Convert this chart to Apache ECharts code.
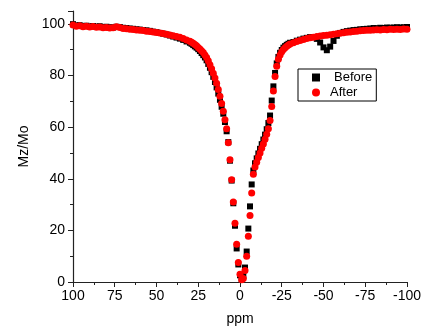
<!DOCTYPE html>
<html>
<head>
<meta charset="utf-8">
<script src="https://cdn.jsdelivr.net/npm/echarts@6/dist/echarts.min.js"></script>
<style>
  html, body { margin: 0; padding: 0; background: #fff; }
  #chart { width: 424px; height: 332px; }
</style>
</head>
<body>
<div id="chart"></div>
<script>
// offsets in ppm (wings sampled every 2 ppm, centre every 1 ppm)
const ppm = [
  100, 98, 96, 94, 92, 90, 88, 86, 84, 82, 80, 78, 76, 74, 72, 70, 68, 66, 64, 62,
  60, 58, 56, 54, 52, 50, 48, 46, 44, 42, 40, 38, 36, 34, 32,
  30, 29, 28, 27, 26, 25, 24, 23, 22, 21, 20, 19, 18, 17, 16, 15, 14, 13, 12, 11,
  10, 9, 8, 7, 6, 5, 4, 3, 2, 1, 0, -1, -2, -3, -4, -5, -6, -7, -8, -9,
  -10, -11, -12, -13, -14, -15, -16, -17, -18, -19, -20, -21, -22, -23, -24, -25, -26, -27, -28, -29, -30,
  -32, -34, -36, -38, -40, -42, -44, -46, -48, -50, -52, -54, -56, -58, -60, -62, -64, -66, -68, -70,
  -72, -74, -76, -78, -80, -82, -84, -86, -88, -90, -92, -94, -96, -98, -100
];

const before = [
  99.9, 99.4, 99.5, 99.2, 99.3, 99.0, 99.2, 98.9, 99.1, 98.8, 98.9, 98.7, 98.6, 98.9, 98.8, 98.5, 98.4, 98.2, 98.1, 97.9,
  97.8, 97.6, 97.5, 97.3, 97.0, 96.8, 96.5, 96.2, 95.9, 95.5, 95.1, 94.7, 94.3, 93.8, 93.2,
  92.7, 92.3, 91.8, 91.3, 90.8, 90.2, 89.5, 88.7, 87.9, 87.0, 85.9, 84.5, 83.0, 81.3, 79.5, 77.5, 75.4, 73.0, 70.6, 67.9,
  65.2, 62.0, 58.4, 54.2, 47.0, 39.3, 30.5, 21.8, 13.0, 6.8, 2.6, 1.2, 2.4, 5.6, 11.8, 20.7, 29.3, 37.8, 43.2, 46.0,
  47.9, 49.8, 51.6, 53.4, 55.2, 57.1, 59.2, 61.6, 64.5, 70.3, 75.8, 81.0, 84.7, 87.2, 88.8, 89.9, 90.8, 91.4, 91.9, 92.3, 92.7,
  93.0, 93.5, 93.9, 94.3, 94.6, 94.9, 94.9, 94.2, 92.8, 90.9, 89.8, 91.2, 93.4, 95.4, 96.5, 96.9, 97.2, 97.4, 97.6, 97.7,
  97.9, 98.0, 98.1, 98.2, 98.4, 98.3, 98.5, 98.4, 98.6, 98.5, 98.6, 98.7, 98.6, 98.7, 98.8
];

const after = [
  99.6, 99.1, 99.3, 98.9, 99.1, 98.8, 99.0, 98.7, 98.8, 98.5, 98.6, 98.4, 98.5, 98.9, 98.6, 98.2, 98.1, 97.9, 97.8, 97.6,
  97.5, 97.4, 97.2, 97.1, 96.9, 96.7, 96.5, 96.3, 96.0, 95.7, 95.4, 95.1, 94.8, 94.3, 93.8,
  93.3, 92.9, 92.5, 92.0, 91.5, 90.9, 90.3, 89.6, 88.9, 88.0, 87.0, 85.7, 84.2, 82.6, 80.9, 79.0, 77.0, 74.6, 72.0, 69.2,
  66.2, 62.9, 59.4, 54.0, 47.4, 39.6, 31.0, 22.8, 14.6, 7.6, 3.0, 0.9, 1.4, 4.5, 10.0, 17.7, 25.8, 34.5, 41.7, 44.6,
  46.4, 48.2, 50.0, 51.8, 53.5, 55.3, 57.2, 59.4, 62.6, 68.0, 74.0, 79.6, 83.6, 86.3, 88.0, 89.2, 90.1, 90.8, 91.3, 91.8, 92.2,
  92.7, 93.2, 93.6, 94.0, 94.3, 94.6, 94.8, 95.1, 95.3, 95.5, 95.6, 95.8, 96.0, 96.2, 96.4, 96.6, 96.8, 96.9, 97.1, 97.2,
  97.3, 97.4, 97.5, 97.5, 97.6, 97.7, 97.6, 97.8, 97.7, 97.9, 97.8, 97.9, 97.8, 98.0, 97.9
];

const xTicks = { min: -100, max: 100, step: 25 };
const yTicks = { min: 0, max: 105, step: 20 };

const font = "'Liberation Sans', Arial, sans-serif";
const axisColor = '#222';

const chart = echarts.init(document.getElementById('chart'), null, { renderer: 'canvas' });

chart.setOption({
  animation: false,
  backgroundColor: '#fff',
  grid: { left: 73, right: 16, top: 11, bottom: 50 },
  legend: {
    orient: 'vertical',
    left: 298,
    top: 69,
    padding: [2, 4, 2, 14],
    itemGap: 2,
    itemWidth: 8,
    itemHeight: 8,
    borderColor: '#000',
    borderWidth: 1,
    textStyle: { fontFamily: font, fontSize: 13, color: '#000' },
    data: [
      { name: 'Before', textStyle: { padding: [0, 0, 0, 9] } },
      { name: 'After', textStyle: { padding: [0, 0, 0, 5] } }
    ]
  },
  xAxis: {
    type: 'value',
    inverse: true,
    min: xTicks.min,
    max: xTicks.max,
    interval: xTicks.step,
    name: 'ppm',
    nameLocation: 'middle',
    nameGap: 30,
    nameTextStyle: { fontFamily: font, fontSize: 14, color: '#000' },
    axisLine: { onZero: false, lineStyle: { color: axisColor, width: 1.2 } },
    axisTick: { length: 5, lineStyle: { color: axisColor } },
    minorTick: { show: true, splitNumber: 2, length: 3, lineStyle: { color: axisColor } },
    axisLabel: { fontFamily: font, fontSize: 14, color: '#000', margin: 7 },
    splitLine: { show: false }
  },
  yAxis: {
    type: 'value',
    min: yTicks.min,
    max: yTicks.max,
    interval: yTicks.step,
    name: 'Mz/Mo',
    nameLocation: 'middle',
    nameGap: 42,
    nameTextStyle: { fontFamily: font, fontSize: 14, color: '#000' },
    axisLine: { show: true, onZero: false, lineStyle: { color: axisColor, width: 1.2 } },
    axisTick: { show: true, length: 5, lineStyle: { color: axisColor } },
    minorTick: { show: true, splitNumber: 2, length: 3, lineStyle: { color: axisColor } },
    axisLabel: { fontFamily: font, fontSize: 14, color: '#000', margin: 8 },
    splitLine: { show: false }
  },
  series: [
    {
      name: 'Before',
      type: 'scatter',
      symbol: 'rect',
      symbolSize: 6,
      itemStyle: { color: '#000', opacity: 1 },
      data: ppm.map((x, i) => [x, before[i]])
    },
    {
      name: 'After',
      type: 'scatter',
      symbol: 'circle',
      symbolSize: 7,
      itemStyle: { color: '#ff0000', opacity: 1 },
      data: ppm.map((x, i) => [x, after[i]])
    }
  ]
});
</script>
</body>
</html>
